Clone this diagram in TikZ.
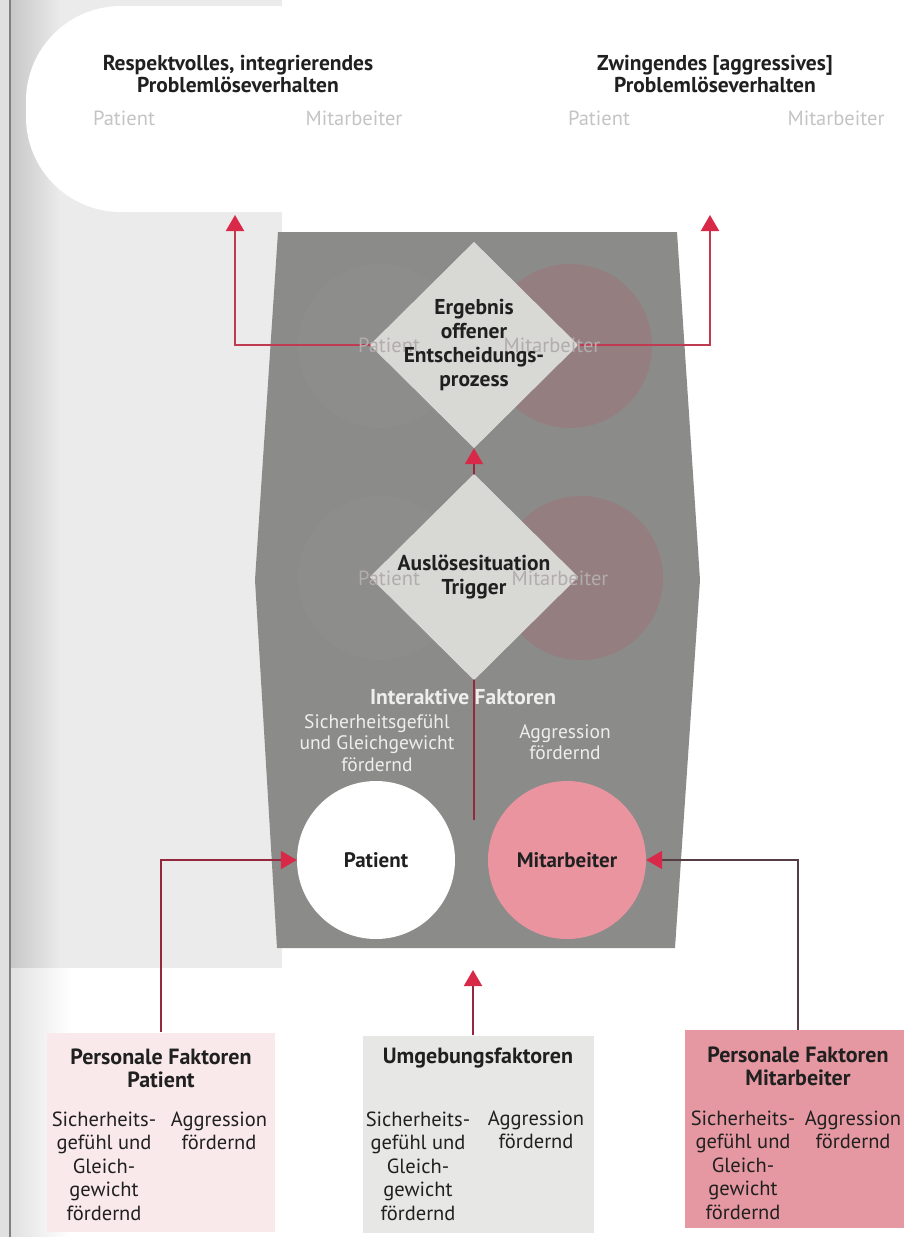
\documentclass[tikz,border=0pt]{standalone}
\usepackage{fontspec}
\setmainfont{PT Sans}
\usepackage{tikz}
\usetikzlibrary{shapes.geometric, arrows.meta, positioning, calc}
\definecolor{myred}{RGB}{216,42,72}
\definecolor{mylinered}{RGB}{150,40,62}
\definecolor{mybrightred}{RGB}{192,58,82}
\definecolor{mylinedark}{RGB}{84,62,68}
\definecolor{mygray}{RGB}{139,139,137}
\definecolor{mydiamond}{RGB}{216,216,213}
\definecolor{myshadow}{RGB}{148,126,128}
\definecolor{mypatshade}{RGB}{141,141,139}
\definecolor{mypink}{RGB}{233,148,158}
\definecolor{hdrpink}{RGB}{249,233,235}
\definecolor{hdrgray}{RGB}{231,231,229}
\definecolor{boxpink}{RGB}{229,152,162}
\definecolor{myfaint}{RGB}{178,172,172}
\definecolor{myouter}{RGB}{196,196,196}
\definecolor{mytext}{RGB}{32,32,32}
\definecolor{mywhite}{RGB}{238,238,236}
\tikzset{
  titletext/.style={align=center, font=\fontsize{21.5}{22}\selectfont\bfseries, text=mytext},
  outtext/.style={font=\fontsize{20.5}{20}\selectfont, text=myouter},
  decision/.style={diamond, fill=mydiamond, minimum width=208pt,
    minimum height=206pt, inner sep=0pt},
  decisiontext/.style={align=center, font=\fontsize{21.5}{24}\selectfont\bfseries, text=mytext},
  echotext/.style={font=\fontsize{20.5}{20}\selectfont, text=myfaint},
  echocircle/.style={circle, minimum size=164pt, inner sep=0pt},
  person/.style={circle, minimum size=158pt, inner sep=0pt,
    font=\fontsize{21}{20}\selectfont\bfseries, text=mytext},
  interhead/.style={font=\fontsize{21.5}{21}\selectfont\bfseries, text=mywhite},
  intertext/.style={align=center, font=\fontsize{19.5}{21.5}\selectfont, text=mywhite},
  factorbox/.style={rectangle, inner sep=0pt},
  boxhead/.style={align=center, font=\fontsize{22}{23}\selectfont\bfseries, text=mytext},
  boxcol/.style={align=center, font=\fontsize{20.5}{23.5}\selectfont, text=mytext},
  redarrow/.style={-{Triangle[width=18pt,length=16pt,color=myred]}, line width=2pt, color=mylinered},
  darkarrow/.style={-{Triangle[width=18pt,length=16pt,color=myred]}, line width=2pt, color=mylinedark}
}

\begin{document}
\begin{tikzpicture}[x=1pt, y=-1pt]
  \useasboundingbox (0,0) rectangle (904,1237);
  \clip (0,0) rectangle (904,1237);

  % page background
  \fill[white] (0,0) rectangle (904,1237);
  \fill[black!12] (0,0) rectangle (10,1237);
  \shade[left color=black!22, right color=black!8] (10,0) rectangle (60,968);
  \fill[black!8] (60,0) rectangle (282,968);
  \shade[left color=black!12, right color=white] (10,968) rectangle (70,1237);
  \draw[black!50, line width=1.5pt] (10,0) -- (10,1237);
  \fill[white, rounded corners=95pt] (26,6) rectangle (1000,212);

  % results on top
  \node[titletext] (respekt) at (238,74) {Respektvolles, integrierendes\\Problemlöseverhalten};
  \node[titletext] (zwingend) at (715,74) {Zwingendes [aggressives]\\Problemlöseverhalten};
  \node[outtext] (respektpat) at (124,118) {Patient};
  \node[outtext] (respektmit) at (354,118) {Mitarbeiter};
  \node[outtext] (zwingendpat) at (599,118) {Patient};
  \node[outtext] (zwingendmit) at (836,118) {Mitarbeiter};
  \coordinate (outL) at (235,215);
  \coordinate (outR) at (710,215);

  % interaction field
  \fill[mygray] (278,232) -- (677,232) -- (700,580) -- (675,948)
    -- (277,948) -- (255,580) -- cycle;
  \node[echocircle, fill=mypatshade] (patshadetop) at (380,346) {};
  \node[echocircle, fill=mypatshade] (patshadebot) at (380,578) {};
  \node[echocircle, fill=myshadow] (mitshadetop) at (570,346) {};
  \node[echocircle, fill=myshadow] (mitshadebot) at (581,578) {};

  % decision diamonds
  \node[decision] (ergebnis) at (474,345) {};
  \node[decision] (trigger) at (474,577) {};
  \coordinate (interakt) at (474,820);

  \draw[redarrow, color=mybrightred] (ergebnis.center) -| (outL);
  \draw[redarrow, color=mybrightred] (ergebnis.center) -| (outR);
  \draw[redarrow] (interakt) -- (ergebnis.south);

  \node[decision] at (ergebnis) {};
  \node[decision] at (trigger) {};
  \node[echotext] (ergpat) at (389,345) {Patient};
  \node[echotext] (ergmit) at (552,345) {Mitarbeiter};
  \node[echotext] (trigpat) at (389,578) {Patient};
  \node[echotext] (trigmit) at (560,578) {Mitarbeiter};
  \node[decisiontext] (ergebnistxt) at (ergebnis) {Ergebnis\\offener\\Entscheidungs-\\prozess};
  \node[decisiontext] (triggertxt) at (trigger) {Auslösesituation\\Trigger};

  % interactive factors
  \node[interhead] (interhead) at (463,697) {Interaktive Faktoren};
  \node[intertext] (intersafe) at (377,743) {Sicherheitsgefühl\\und Gleichgewicht\\fördernd};
  \node[intertext] (interaggr) at (565,742) {Aggression\\fördernd};
  \node[person, fill=white] (patient) at (376,860) {Patient};
  \node[person, fill=mypink] (mitarb) at (567,860) {Mitarbeiter};

  % factor boxes
  \node[factorbox, fill=hdrpink, minimum width=228pt, minimum height=199pt] (boxpat) at (161,1132) {};
  \node[boxhead] at (161,1068) {Personale Faktoren\\Patient};
  \node[boxcol] at (104,1166) {Sicherheits-\\gefühl und\\Gleich-\\gewicht\\fördernd};
  \node[boxcol] at (219,1131) {Aggression\\fördernd};

  \node[factorbox, fill=hdrgray, minimum width=231pt, minimum height=197pt] (boxumg) at (478,1134) {};
  \node[boxhead] at (478,1058) {Umgebungsfaktoren};
  \node[boxcol] at (418,1166) {Sicherheits-\\gefühl und\\Gleich-\\gewicht\\fördernd};
  \node[boxcol] at (536,1130) {Aggression\\fördernd};

  \node[factorbox, fill=boxpink, minimum width=226pt, minimum height=198pt] (boxmit) at (798,1129) {};
  \node[boxhead] at (798,1066) {Personale Faktoren\\Mitarbeiter};
  \node[boxcol] at (743,1165) {Sicherheits-\\gefühl und\\Gleich-\\gewicht\\fördernd};
  \node[boxcol] at (853,1130) {Aggression\\fördernd};

  % factors into the field
  \coordinate (umgtip) at (473,970);
  \draw[redarrow] (boxpat.north) |- (patient.west);
  \draw[darkarrow] (boxmit.north) |- (mitarb.east);
  \draw[redarrow] (umgtip |- boxumg.north) -- (umgtip);
\end{tikzpicture}
\end{document}
